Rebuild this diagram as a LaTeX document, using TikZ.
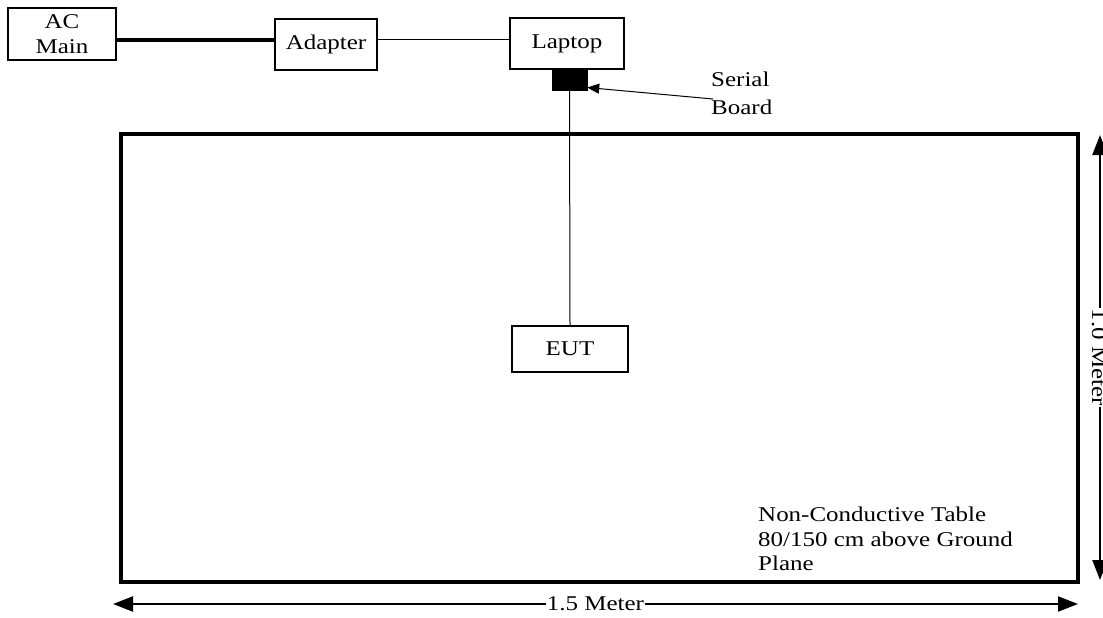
\documentclass[tikz,border=0pt]{standalone}
\usepackage{fontspec}
\setmainfont{Liberation Serif}[FakeStretch=1.19]
\usetikzlibrary{arrows.meta,calc}
\begin{document}
\begin{tikzpicture}[x=1pt,y=-1pt,
  font=\fontsize{21}{24.5}\selectfont,
  box/.style={draw,line width=1.6pt,inner sep=0pt,align=center},
  thin/.style={line width=1pt},
  thick3/.style={line width=3.2pt},
  dim/.style={line width=2.2pt,{Triangle[length=20pt,width=15pt]}-{Triangle[length=20pt,width=15pt]}},
  lbl/.style={inner sep=0pt,align=left}]
\useasboundingbox (0,0) rectangle (1103,618);
% nodes
\node[box,minimum width=108pt,minimum height=52pt,font=\fontsize{21}{25}\selectfont] (ac) at (62,34) {AC\\Main};
\node[box,minimum width=102pt,minimum height=51pt] (adapter) at (326,44.5) {Adapter};
\node[box,minimum width=114pt,minimum height=51pt] (laptop) at (567,43.5) {Laptop};
\node[draw,fill=black,inner sep=0pt,minimum width=35pt,minimum height=21pt] (serial) at (569.5,79.5) {};
\node[box,minimum width=116pt,minimum height=46pt] (eut) at (570,349) {EUT};
\node[draw,line width=3.2pt,inner sep=0pt,minimum width=957pt,minimum height=448pt] (table) at (599.5,358) {};
\node[lbl,anchor=north west,font=\fontsize{21}{28}\selectfont] (sbtext) at (711,72) {Serial\\Board};
\node[lbl,anchor=north west] (nct) at (758,507) {Non-Conductive Table\\80/150 cm above Ground\\Plane};
% connectors
\coordinate (bus) at (0,40);
\draw[thick3] (ac.east |- bus) -- (adapter.west |- bus);
\draw[thin] (adapter.east |- bus) -- (laptop.west |- bus);
\draw[thin] (serial.south) -- (eut.north);
\coordinate (sbtail) at (713,99);
\draw[thin,-{Triangle[length=12pt,width=10pt]}] (sbtail) -- ($(serial.east)!0.75!(serial.south east)$);
% dimensions
\coordinate (hl) at (113,604);
\coordinate (hr) at (1078,604);
\draw[dim] (hl) -- node[fill=white,inner sep=1pt] (hdim) {1.5 Meter} (hr);
\coordinate (vt) at (1100,135);
\coordinate (vb) at (1100,580);
\draw[dim] (vt) -- (vb);
\node[fill=white,inner sep=1pt,rotate=-90,anchor=base] (vdim) at ($(vt)!0.5!(vb)+(-8,0)$) {1.0 Meter};
\end{tikzpicture}
\end{document}
